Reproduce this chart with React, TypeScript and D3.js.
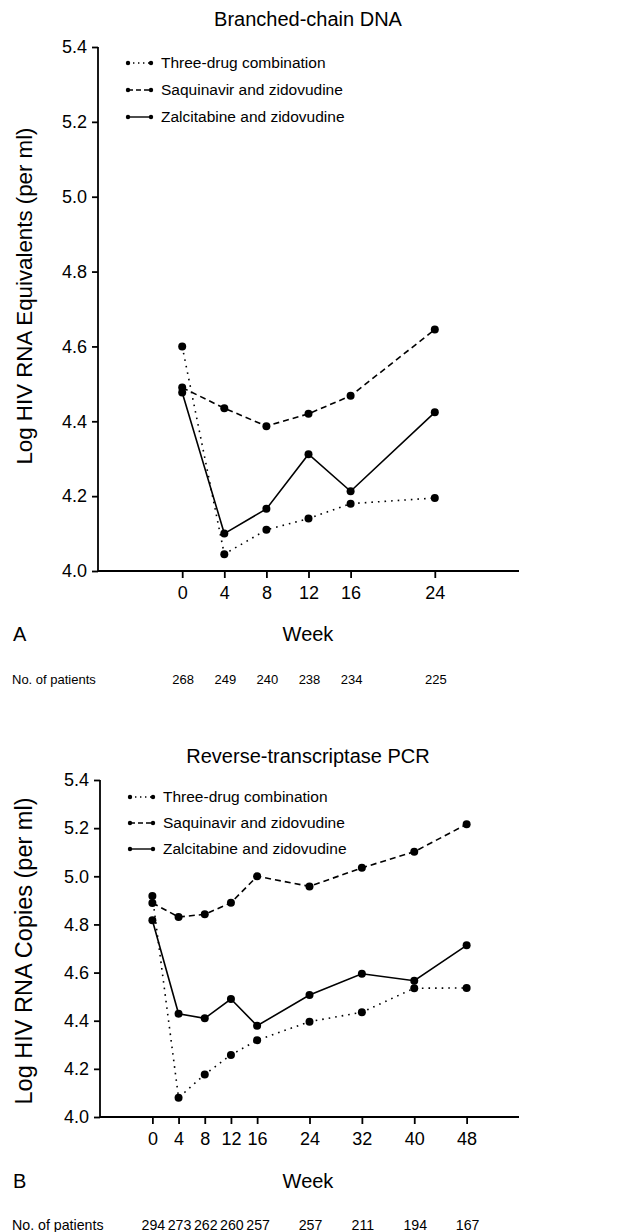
import { useEffect, useRef } from "react";
import * as d3 from "d3";

// panel A: branched-chain DNA
const weeksA = [0, 4, 8, 12, 16, 24];
const threeDrugA = [4.6, 4.045, 4.11, 4.14, 4.18, 4.195];
const saquinavirA = [4.49, 4.435, 4.387, 4.42, 4.468, 4.645];
const zalcitabineA = [4.477, 4.1, 4.166, 4.312, 4.213, 4.424];
const patientsA = [268, 249, 240, 238, 234, 225];

// panel B: reverse-transcriptase PCR
const weeksB = [0, 4, 8, 12, 16, 24, 32, 40, 48];
const threeDrugB = [4.918, 4.08, 4.177, 4.258, 4.319, 4.396, 4.435, 4.535, 4.536];
const saquinavirB = [4.889, 4.831, 4.842, 4.89, 5.0, 4.958, 5.035, 5.102, 5.216];
const zalcitabineB = [4.817, 4.429, 4.41, 4.49, 4.379, 4.507, 4.595, 4.566, 4.713];
const patientsB = [294, 273, 262, 260, 257, 257, 211, 194, 167];

const yTicks = [4.0, 4.2, 4.4, 4.6, 4.8, 5.0, 5.2, 5.4];
const seriesNames = ["Three-drug combination", "Saquinavir and zidovudine", "Zalcitabine and zidovudine"];
const dashes = ["1.6,5", "6,4", null];

const FONT = "'Liberation Sans', Arial, Helvetica, sans-serif";

export default function App() {
  const ref = useRef<SVGSVGElement>(null);

  useEffect(() => {
    const svg = d3.select(ref.current);
    svg.selectAll("*").remove();

    const panels = [
      {
        title: "Branched-chain DNA", titleY: 26,
        yLabel: "Log HIV RNA Equivalents (per ml)", yLabelSize: 22.3, yLabelY: 296,
        weeks: weeksA, series: [threeDrugA, saquinavirA, zalcitabineA], patients: patientsA,
        x: d3.scaleLinear().domain([-8, 32]).range([98, 519]),
        y: d3.scaleLinear().domain([4.0, 5.4]).range([571, 47]),
        legendY: 63, legendStep: 27, letter: "A", weekY: 641, patY: 684, patSize: 13,
      },
      {
        title: "Reverse-transcriptase PCR", titleY: 763,
        yLabel: "Log HIV RNA Copies (per ml)", yLabelSize: 23.5, yLabelY: 951,
        weeks: weeksB, series: [threeDrugB, saquinavirB, zalcitabineB], patients: patientsB,
        x: d3.scaleLinear().domain([-8, 56]).range([100, 519]),
        y: d3.scaleLinear().domain([4.0, 5.4]).range([1117, 780]),
        legendY: 797, legendStep: 26, letter: "B", weekY: 1188, patY: 1230, patSize: 14.2,
      },
    ];

    panels.forEach((p) => {
      const g = svg.append("g").attr("font-family", FONT).attr("fill", "#000");
      const [x0, x1] = p.x.range();
      const [yb, yt] = p.y.range();
      const cx = 308;

      g.append("text").attr("x", cx).attr("y", p.titleY).attr("text-anchor", "middle")
        .attr("font-size", 20).text(p.title);

      // y axis
      const yAxis = d3.axisLeft(p.y).tickValues(yTicks).tickFormat(d3.format(".1f")).tickSize(6).tickPadding(5);
      const ya = g.append("g").attr("transform", `translate(${x0},0)`).call(yAxis);
      ya.select(".domain").attr("d", `M0,${yt}V${yb}`).attr("stroke-width", 1.8);
      ya.selectAll(".tick line").attr("stroke-width", 1.8);
      ya.selectAll(".tick text").attr("font-size", 18).attr("font-family", FONT).attr("fill", "#000");

      // x axis
      const xAxis = d3.axisBottom(p.x).tickValues(p.weeks).tickFormat(d3.format("d")).tickSize(7).tickPadding(8);
      const xa = g.append("g").attr("transform", `translate(0,${yb})`).call(xAxis);
      xa.select(".domain").attr("d", `M${x0},0H${x1}`).attr("stroke-width", 1.8);
      xa.selectAll(".tick line").attr("stroke-width", 1.8);
      xa.selectAll(".tick text").attr("font-size", 18).attr("font-family", FONT).attr("fill", "#000");

      // y label
      g.append("text").attr("transform", `translate(32,${p.yLabelY}) rotate(-90)`)
        .attr("text-anchor", "middle").attr("font-size", p.yLabelSize).text(p.yLabel);

      // series
      const line = d3.line<number>().x((_, i) => p.x(p.weeks[i])).y((d) => p.y(d));
      p.series.forEach((vals, si) => {
        g.append("path").datum(vals).attr("d", line).attr("fill", "none").attr("stroke", "#000")
          .attr("stroke-width", 1.6).attr("stroke-dasharray", dashes[si]);
        g.selectAll(null).data(vals).join("circle")
          .attr("cx", (_, i) => p.x(p.weeks[i])).attr("cy", (d) => p.y(d)).attr("r", 4);
      });

      // legend
      seriesNames.forEach((name, si) => {
        const ly = p.legendY + si * p.legendStep;
        const lx0 = x0 + 30, lx1 = x0 + 53;
        g.append("line").attr("x1", lx0).attr("x2", lx1).attr("y1", ly).attr("y2", ly)
          .attr("stroke", "#000").attr("stroke-width", 1.4).attr("stroke-dasharray", si === 0 ? "1.4,3.6" : si === 1 ? "5,3" : null);
        [lx0, lx1].forEach((lx) => g.append("circle").attr("cx", lx).attr("cy", ly).attr("r", 2.2));
        g.append("text").attr("x", x0 + 63).attr("y", ly).attr("dy", "0.35em")
          .attr("font-size", 15.5).text(name);
      });

      g.append("text").attr("x", 13).attr("y", p.weekY).attr("font-size", 20).text(p.letter);
      g.append("text").attr("x", cx).attr("y", p.weekY).attr("text-anchor", "middle").attr("font-size", 20).text("Week");

      g.append("text").attr("x", 12).attr("y", p.patY).attr("font-size", p.patSize).text("No. of patients");
      g.selectAll(null).data(p.patients).join("text")
        .attr("x", (_, i) => p.x(p.weeks[i]) + 1).attr("y", p.patY).attr("text-anchor", "middle")
        .attr("font-size", p.patSize).text((d) => d);
    });
  }, []);

  return (
    <svg ref={ref} width={627} height={1232}
      style={{ position: "absolute", left: 0, top: 0, background: "#fff" }} />
  );
}
